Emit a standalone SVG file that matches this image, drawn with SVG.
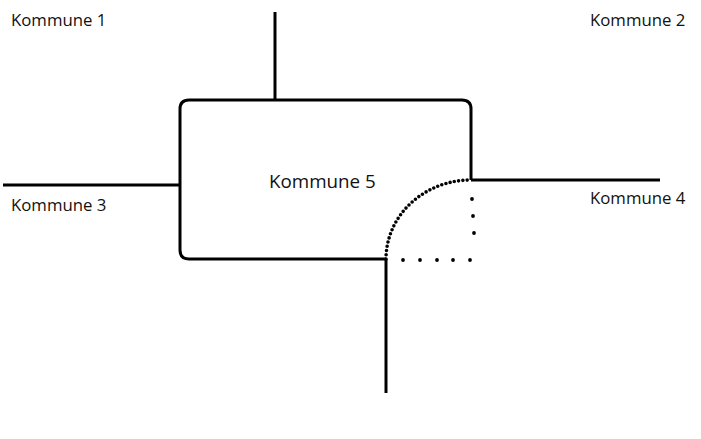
<svg xmlns="http://www.w3.org/2000/svg" width="701" height="439" viewBox="0 0 701 439">
<style>
.ln{stroke:#000;stroke-width:3;fill:none}
.dot{stroke:#000;stroke-width:3.6;fill:none;stroke-linecap:round}
.d{fill:#000}
.lb{font-family:"Open Sans","Liberation Sans",sans-serif;font-size:16.8px;fill:#111}
.big{font-size:18.8px}
</style>
<rect width="701" height="439" fill="#fff"/>
<g id="kommune5">
<path class="ln" d="M386 259 H189 Q180 259 180 250 V109 Q180 100 189 100 H462 Q471 100 471 109 V180"/>
<path class="dot" stroke-dasharray="0 4.3" d="M386 259 A85 79 0 0 1 471 180"/>
<g class="d">
<circle cx="472" cy="199" r="1.9"/><circle cx="473" cy="216" r="1.9"/><circle cx="474" cy="233" r="1.9"/>
<circle cx="403" cy="260" r="1.9"/><circle cx="420" cy="260" r="1.9"/><circle cx="437" cy="260" r="1.9"/><circle cx="453" cy="260" r="1.9"/><circle cx="470" cy="260" r="1.9"/>
</g>
<text class="lb big" x="269" y="188">Kommune 5</text>
</g>
<g id="connectors">
<line class="ln" x1="275" y1="12" x2="275" y2="100"/>
<line class="ln" x1="3" y1="185" x2="180" y2="185"/>
<line class="ln" x1="471" y1="180" x2="660" y2="180"/>
<line class="ln" x1="386" y1="259" x2="386" y2="393"/>
</g>
<g id="kommune1"><text class="lb" x="11" y="26">Kommune 1</text></g>
<g id="kommune2"><text class="lb" x="590" y="26">Kommune 2</text></g>
<g id="kommune3"><text class="lb" x="11" y="211">Kommune 3</text></g>
<g id="kommune4"><text class="lb" x="590" y="204">Kommune 4</text></g>
</svg>
